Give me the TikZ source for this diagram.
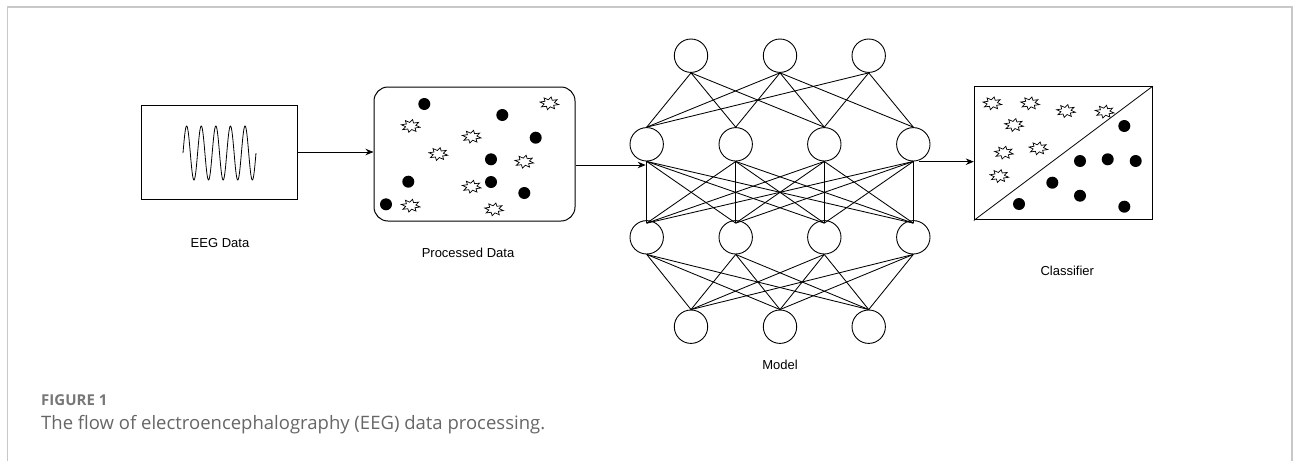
\documentclass[tikz,border=0pt]{standalone}
\usepackage{fontspec}
\setmainfont{Liberation Sans}
\newfontfamily\capfont{Open Sans}
\usetikzlibrary{arrows.meta}
\definecolor{framegray}{HTML}{C8C8C8}
\definecolor{capgray}{HTML}{666666}
\definecolor{figgray}{HTML}{777777}
\tikzset{
  box/.style={draw, line width=1pt, inner sep=0},
  neuron/.style={draw, circle, line width=0.9pt, minimum size=33.4pt, inner sep=0},
  edge/.style={line width=0.85pt},
  flow/.style={line width=0.9pt, -{Stealth[length=8pt,width=6.5pt]}},
  lbl/.style={font=\fontsize{13}{15}\selectfont, inner sep=0},
  burst/.pic={\draw[line width=0.7pt, fill=white] plot[samples at={0,...,15}, variable=\i]
     ({ifthenelse(mod(\i,2)==0,9.5,5.2)*cos(\i*22.5+11.25)},
      {ifthenelse(mod(\i,2)==0,6.5,3.6)*sin(\i*22.5+11.25)}) -- cycle;},
  dotc/.style={fill=black}
}
\begin{document}
\begin{tikzpicture}[x=1pt,y=-1pt]
\useasboundingbox (0,0) rectangle (1293,461);
% frame
\draw[framegray, line width=1.6pt] (7.5,461) -- (7.5,7) -- (1292,7) -- (1292,461);

% EEG box
\node[box, minimum width=156pt, minimum height=94pt] (eeg) at (219,152) {};
\draw[line width=0.8pt] plot[domain=0:73, samples=200] ({183+\x}, {153 - 27*sin(\x/14.6*360)});
\node[lbl] (leeg) at (220,243) {EEG Data};

% Processed box
\node[box, rounded corners=14pt, minimum width=201pt, minimum height=134pt] (proc) at (474.5,154) {};
\node[lbl] (lproc) at (468,253) {Processed Data};
\foreach \p in {(424.3,104),(502.3,115),(535.7,137.7),(491,159.3),(408.3,181.7),(491,182),(524.3,193),(386,204.3)}
  \fill[dotc] \p circle (6);
\foreach \p in {(549.3,103.3),(410.7,126),(471.7,136.7),(438.3,154),(524.3,161.7),(471.7,186.7),(410.7,205.7),(494,209.3)}
  \pic at \p {burst};

% Neural network
\foreach \x [count=\i] in {691,780,868.7} \node[neuron] (t\i) at (\x,55.7) {};
\foreach \x [count=\i] in {646.7,735.7,824.3,913.3} \node[neuron] (a\i) at (\x,144.3) {};
\foreach \x [count=\i] in {646.7,735.7,824.3,913.3} \node[neuron] (b\i) at (\x,237.3) {};
\foreach \x [count=\i] in {691,780,868.7} \node[neuron] (o\i) at (\x,326.7) {};
\foreach \s/\t in {1/1,1/2,1/3,2/1,2/2,2/3,2/4,3/1,3/3,3/4}
  \draw[edge] (t\s.south) -- (a\t.north);
\foreach \s in {1,...,4} \foreach \t in {1,...,4}
  \draw[edge] (a\s.south) -- ([yshift=-3pt]b\t.north);
\foreach \s in {1,...,4} \foreach \t in {1,...,3}
  \draw[edge] (b\s.south) -- (o\t.north);
\node[lbl] (lmodel) at (780,365) {Model};

% Classifier
\node[box, minimum width=178pt, minimum height=133.3pt] (cls) at (1063.3,153.3) {};
\draw[line width=0.8pt] (cls.south west) -- (cls.north east);
\foreach \p in {(992.3,103.3),(1030,103.3),(1066,111),(1104.7,111.7),(1014,125),(1004,152.7),(1038.3,148.3),(999.3,176)}
  \pic at \p {burst};
\foreach \p in {(1124.3,126),(1080,161),(1107.7,159.3),(1135.7,161),(1052.3,182.7),(1080,195.7),(1019,204),(1124.3,206.7)}
  \fill[dotc] \p circle (6);
\node[lbl] (lcls) at (1067.3,270.7) {Classifier};

% flow arrows
\coordinate (in1) at (645.7,165);
\coordinate (out1) at (919.3,161.7);
\draw[flow] (eeg.east) -- (proc.west |- eeg.east);
\draw[flow] (proc.east |- in1) -- (in1);
\draw[flow] (out1) -- (cls.west |- out1);

% caption
\node[anchor=west, inner sep=0, text=figgray, font=\capfont\bfseries\fontsize{15}{17}\selectfont] (fig) at (41,400) {FIGURE 1};
\node[anchor=west, inner sep=0, text=capgray, font=\capfont\fontsize{18.5}{21}\selectfont] (cap) at (41,425) {The flow of electroencephalography (EEG) data processing.};
\end{tikzpicture}
\end{document}
